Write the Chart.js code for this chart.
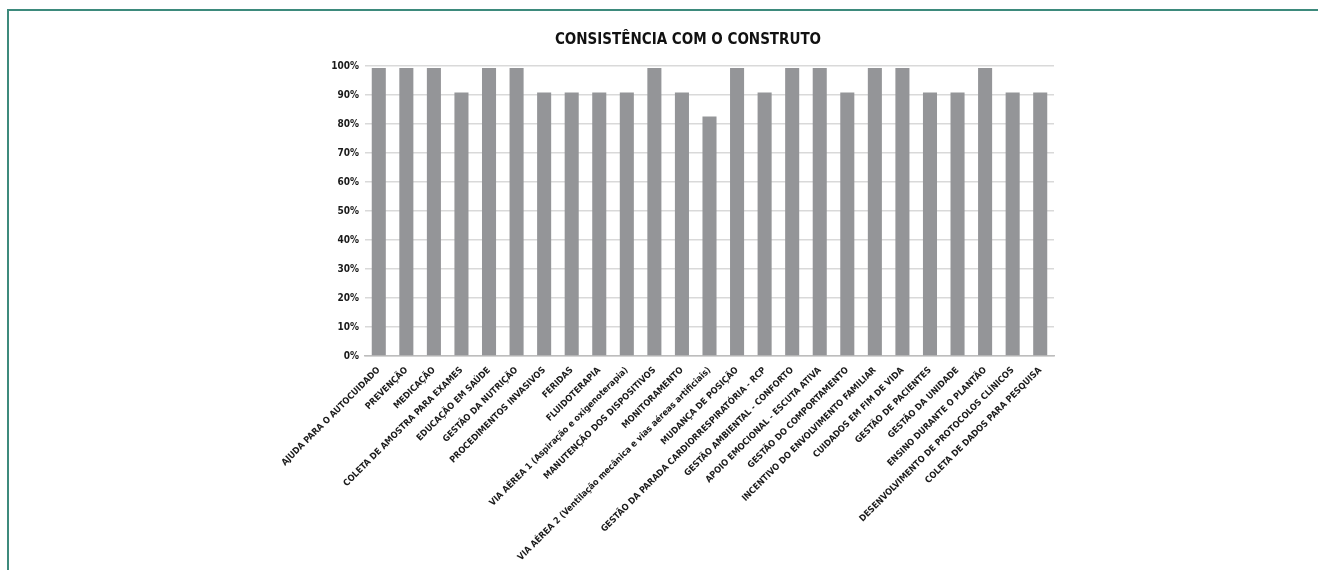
<!DOCTYPE html>
<html>
<head>
<meta charset="utf-8">
<script src="https://cdn.jsdelivr.net/npm/chart.js@4"></script>
<style>
    body { margin: 0; background: #fff; }
    #wrap { position: relative; width: 1318px; height: 570px; }
    #frame {
        position: absolute; left: 7px; top: 9px; right: 0; bottom: 0;
        border-top: 2px solid #3d8a7c; border-left: 2px solid #3d8a7c;
        pointer-events: none;
    }
</style>
</head>
<body>
<div id="wrap">
    <canvas id="chart"></canvas>
    <div id="frame"></div>
</div>
<script>
// categorias (eixo x)
const categorias = [
    "AJUDA PARA O AUTOCUIDADO",
    "PREVENÇÃO",
    "MEDICAÇÃO",
    "COLETA DE AMOSTRA PARA EXAMES",
    "EDUCAÇÃO EM SAÚDE",
    "GESTÃO DA NUTRIÇÃO",
    "PROCEDIMENTOS INVASIVOS",
    "FERIDAS",
    "FLUIDOTERAPIA",
    "VIA AÉREA 1 (Aspiração e oxigenoterapia)",
    "MANUTENÇÃO DOS DISPOSITIVOS",
    "MONITORAMENTO",
    "VIA AÉREA 2 (Ventilação mecânica e vias aéreas artificiais)",
    "MUDANÇA DE POSIÇÃO",
    "GESTÃO DA PARADA CARDIORRESPIRATÓRIA - RCP",
    "GESTÃO AMBIENTAL - CONFORTO",
    "APOIO EMOCIONAL - ESCUTA ATIVA",
    "GESTÃO DO COMPORTAMENTO",
    "INCENTIVO DO ENVOLVIMENTO FAMILIAR",
    "CUIDADOS EM FIM DE VIDA",
    "GESTÃO DE PACIENTES",
    "GESTÃO DA UNIDADE",
    "ENSINO DURANTE O PLANTÃO",
    "DESENVOLVIMENTO DE PROTOCOLOS CLÍNICOS",
    "COLETA DE DADOS PARA PESQUISA"
];

// consistência (%)
const consistencia = [
    99.3, 99.3, 99.3, 90.9, 99.3, 99.3, 90.9, 90.9, 90.9, 90.9,
    99.3, 90.9, 82.6, 99.3, 90.9, 99.3, 99.3, 90.9, 99.3, 99.3,
    90.9, 90.9, 99.3, 90.9, 90.9
];

const titulo = "CONSISTÊNCIA COM O CONSTRUTO";
const fonte = "'DejaVu Sans Condensed', 'Liberation Sans Narrow', sans-serif";

let ctx = document.getElementById("chart").getContext("2d");
let grafico = new Chart(ctx, {
    type: "bar",
    data: {
        labels: categorias,
        datasets: [{
            label: "Consistência",
            data: consistencia,
            backgroundColor: "#949598",
            borderWidth: 0,
            categoryPercentage: 1,
            barPercentage: 0.51
        }]
    },
    options: {
        responsive: true,
        maintainAspectRatio: false,
        animation: false,
        layout: {
            padding: { left: 322, right: 264, top: 0, bottom: 0 }
        },
        plugins: {
            legend: { display: false },
            tooltip: { enabled: false },
            title: {
                display: true,
                text: titulo,
                color: "#111",
                font: { family: fonte, size: 15, weight: "bold" },
                padding: { top: 31, bottom: 17 }
            }
        },
        scales: {
            x: {
                grid: { display: false, drawTicks: false },
                border: { display: true, color: "#bdbdbd", width: 1.5 },
                ticks: {
                    autoSkip: false,
                    maxRotation: 45,
                    minRotation: 45,
                    padding: 9,
                    color: "#1a1a1a",
                    font: { family: fonte, size: 9, weight: "bold" }
                },
                afterFit: function (scale) { scale.height = 214; }
            },
            y: {
                min: 0,
                max: 100,
                grid: { color: "#d9d9d9", lineWidth: 1.5, drawTicks: false },
                border: { display: false },
                ticks: {
                    stepSize: 10,
                    padding: 6,
                    color: "#1a1a1a",
                    font: { family: fonte, size: 10, weight: "bold" },
                    callback: function (v) { return v + "%"; }
                },
                afterFit: function (scale) { scale.width = 43; }
            }
        }
    }
});
</script>
</body>
</html>
